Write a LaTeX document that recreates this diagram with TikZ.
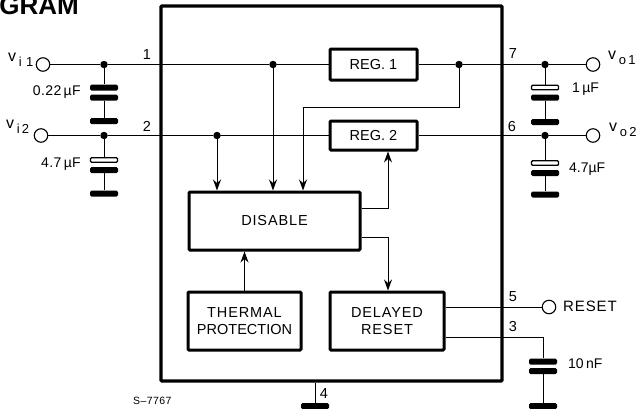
\documentclass[tikz,border=0pt]{standalone}
\usepackage{fontspec}
\setmainfont{Liberation Sans}
\usetikzlibrary{arrows.meta}
\newcommand{\txs}{\fontsize{14.5}{17}\selectfont}
\newcommand{\wide}{\addfontfeature{LetterSpace=6}}
\newcommand{\sub}[1]{\raisebox{-5pt}{#1}}
\tikzset{
  block/.style={draw,line width=3pt,rounded corners=1pt,fill=white,align=center,inner sep=0pt,font=\txs},
  wire/.style={line width=1pt},
  feed/.style={line width=1pt,-{Stealth[length=11pt,width=8pt]}},
  dot/.style={circle,fill=black,inner sep=0pt,minimum size=7.5pt},
  term/.style={circle,draw,line width=1.1pt,fill=white,inner sep=0pt,minimum size=13.5pt},
  plate/.style={fill=black,rounded corners=1.5pt,inner sep=0pt,minimum width=28pt,minimum height=6pt},
  wplate/.style={draw,line width=1.4pt,fill=white,rounded corners=1pt,inner sep=0pt,minimum width=27pt,minimum height=4.5pt},
  lab/.style={inner sep=0pt,font=\fontsize{14}{16}\selectfont},
  vlab/.style={inner sep=0pt,anchor=west,font=\fontsize{16}{18}\selectfont},
  pin/.style={inner sep=0pt,font=\fontsize{14.5}{16}\selectfont}
}
\begin{document}
\begin{tikzpicture}[x=1pt,y=-1pt]
\useasboundingbox (0,0) rectangle (637,408);
\clip (0,0) rectangle (637,408);
\fill[white] (0,0) rectangle (637,408);
% title
\node[anchor=base east,inner sep=0pt,font=\bfseries\fontsize{26}{28}\selectfont] (title) at (79,14) {AGRAM};
% outer box
\node[draw,line width=3.3pt,rounded corners=1pt,minimum width=341pt,minimum height=375pt,inner sep=0pt] (chip) at (331.5,193.5) {};
% blocks
\node[block,minimum width=87pt,minimum height=31pt] (reg1) at (373.5,64.5) {REG. 1};
\node[block,minimum width=87pt,minimum height=29pt] (reg2) at (373.5,135.5) {REG. 2};
\node[block,minimum width=171pt,minimum height=58pt] (dis) at (274.5,221) {\raisebox{-4pt}{\wide DISABLE}};
\node[block,minimum width=113pt,minimum height=58pt] (therm) at (244.5,321) {{\wide THERMAL}\\PROTECTION};
\node[block,minimum width=114pt,minimum height=58pt] (delay) at (387,321) {{\wide DELAYED}\\{\wide RESET}};
% terminals
\node[term] (vi1) at (43,64.5) {};
\node[term] (vi2) at (41,135.5) {};
\node[term] (vo1) at (593,64.5) {};
\node[term] (vo2) at (593,135.5) {};
\node[term] (rst) at (549,307) {};
% junctions
\node[dot] (j1) at (104,64.5) {};
\node[dot] (j2) at (104,135.5) {};
\node[dot] (j3) at (273,64.5) {};
\node[dot] (j4) at (217,135.5) {};
\node[dot] (j5) at (459,64.5) {};
\node[dot] (j6) at (545,64.5) {};
\node[dot] (j7) at (545,135.5) {};
% capacitors
\node[plate] (c1a) at (104,87.5) {};
\node[plate] (c1b) at (104,97.5) {};
\node[plate] (c1c) at (104,121) {};
\node[wplate] (c2a) at (104,160) {};
\node[plate] (c2b) at (104,170) {};
\node[plate] (c2c) at (104,193.5) {};
\node[wplate] (c3a) at (545,87.5) {};
\node[plate] (c3b) at (545,97.5) {};
\node[plate] (c3c) at (545,122) {};
\node[wplate] (c4a) at (545,163) {};
\node[plate] (c4b) at (545,173) {};
\node[plate] (c4c) at (545,194.5) {};
\node[plate] (c5a) at (543,361.5) {};
\node[plate] (c5b) at (543,371) {};
\node[plate] (c5c) at (543,406) {};
\node[plate] (gnd) at (315,406) {};
% helper points
\coordinate (k1) at (303,107);
\coordinate (k2) at (459,107);
\coordinate (k3) at (388,208.5);
\coordinate (k4) at (388,237);
\coordinate (k5) at (543,337);
% wires
\draw[wire] (vi1) -- (j1) -- (j3) -- (reg1.west);
\draw[wire] (vi2) -- (j2) -- (j4) -- (reg2.west);
\draw[wire] (reg1.east) -- (j5) -- (j6) -- (vo1);
\draw[wire] (reg2.east) -- (j7) -- (vo2);
\draw[wire] (j1) -- (c1a);
\draw[wire] (c1b) -- (c1c);
\draw[wire] (j2) -- (c2a);
\draw[wire] (c2b) -- (c2c);
\draw[wire] (j6) -- (c3a);
\draw[wire] (c3b) -- (c3c);
\draw[wire] (j7) -- (c4a);
\draw[wire] (c4b) -- (c4c);
\draw[wire] (delay.east |- rst) -- (rst);
\draw[wire] (delay.east |- k5) -- (k5) -- (c5a);
\draw[wire] (c5b) -- (c5c);
\draw[wire] (chip.south -| gnd) -- (gnd);
\draw[feed] (j4) -- (j4 |- dis.north);
\draw[feed] (j3) -- (j3 |- dis.north);
\draw[feed] (j5) -- (k2) -- (k1) -- (k1 |- dis.north);
\draw[feed] (dis.east |- k3) -- (k3) -- (k3 |- reg2.south);
\draw[feed] (dis.east |- k4) -- (k4) -- (k4 |- delay.north);
\draw[feed] (therm.north) -- (therm.north |- dis.south);
% labels
\node[vlab] (l1) at (8,60) {v\sub{\,\fontsize{13}{14}\selectfont i\,\,1}};
\node[vlab] (l2) at (6,127) {v\sub{\,\fontsize{13}{14}\selectfont i\,2}};
\node[vlab] (l3) at (608,58) {v\sub{\,\fontsize{13}{14}\selectfont o\,1}};
\node[vlab] (l4) at (609,130) {v\sub{\,\fontsize{13}{14}\selectfont o\,2}};
\node[lab,anchor=east] (c1t) at (81,92) {\addfontfeature{LetterSpace=3}0.22\,µF};
\node[lab,anchor=east] (c2t) at (81,164) {\addfontfeature{LetterSpace=3}4.7\,µF};
\node[lab,anchor=west] (c3t) at (572,89) {1\,µF};
\node[lab,anchor=west] (c4t) at (569,169) {4.7µF};
\node[lab,anchor=west] (c5t) at (568,364) {10\,nF};
\node[lab,anchor=west,font=\fontsize{15}{17}\selectfont] (rstt) at (563,306) {\addfontfeature{LetterSpace=6}RESET};
\node[pin] (p1) at (147,55) {1};
\node[pin] (p2) at (147,126) {2};
\node[pin] (p7) at (513,54) {7};
\node[pin] (p6) at (512,127) {6};
\node[pin] (p5) at (513,297) {5};
\node[pin] (p3) at (513,327) {3};
\node[pin] (p4) at (324,394) {4};
\node[anchor=west,inner sep=0pt,font=\fontsize{10.5}{12}\selectfont] (code) at (133,401) {\addfontfeature{LetterSpace=4}S–7767};
\end{tikzpicture}
\end{document}
